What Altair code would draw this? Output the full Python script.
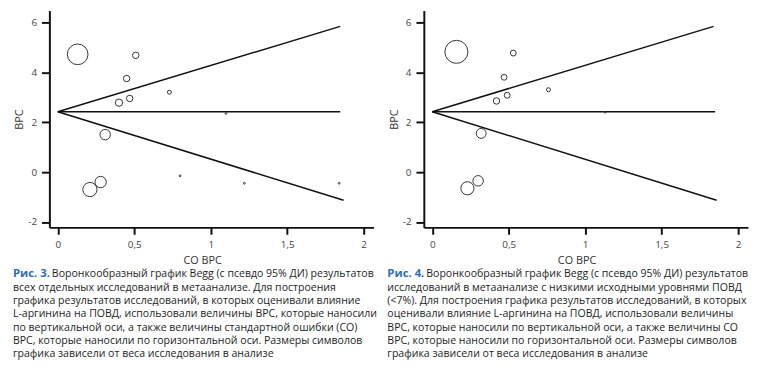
import altair as alt
import pandas as pd

# ---------- Fig. 3: all studies ----------
se_3 = [0.13, 0.51, 0.45, 0.73, 0.47, 0.40, 1.10, 0.31, 0.80, 1.22, 1.84, 0.28, 0.21]
vrs_3 = [4.72, 4.68, 3.75, 3.20, 2.95, 2.78, 2.35, 1.50, -0.15, -0.45, -0.45, -0.40, -0.70]
weight_3 = [39.7, 3.9, 3.9, 1.5, 3.9, 4.9, 0.3, 10.1, 0.3, 0.3, 0.3, 12.0, 18.7]
funnel_x_end_3 = [1.847, 1.847, 1.869]
funnel_y_end_3 = [2.42, 5.84, -1.13]
funnel_center_3 = 2.42

# ---------- Fig. 4: low baseline FMD (<7%) ----------
se_4 = [0.158, 0.53, 0.47, 0.76, 0.49, 0.42, 1.13, 0.32, 0.30, 0.23]
vrs_4 = [4.82, 4.77, 3.80, 3.30, 3.08, 2.85, 2.40, 1.55, -0.35, -0.65]
weight_4 = [49.4, 3.2, 3.2, 1.5, 3.2, 3.9, 0.3, 9.1, 10.1, 16.1]
funnel_x_end_4 = [1.85, 1.84, 1.86]
funnel_y_end_4 = [2.42, 5.84, -1.13]
funnel_center_4 = 2.42

x_ticks = [0, 0.5, 1, 1.5, 2]
y_ticks = [-2, 0, 2, 4, 6]

label_3 = "Рис. 3."
first_rest_3 = "Воронкообразный график Begg (с псевдо 95% ДИ) результатов"
lines_3 = [
    "всех отдельных исследований в метаанализе. Для построения",
    "графика результатов исследований, в которых оценивали влияние",
    "L-аргинина на ПОВД, использовали величины ВРС, которые наносили",
    "по вертикальной оси, а также величины стандартной ошибки (СО)",
    "ВРС, которые наносили по горизонтальной оси. Размеры символов",
    "графика зависели от веса исследования в анализе",
]

label_4 = "Рис. 4."
first_rest_4 = "Воронкообразный график Begg (с псевдо 95% ДИ) результатов"
lines_4 = [
    "исследований в метаанализе с низкими исходными уровнями ПОВД",
    "(<7%). Для построения графика результатов исследований, в которых",
    "оценивали влияние L-аргинина на ПОВД, использовали величины",
    "ВРС, которые наносили по вертикальной оси, а также величины СО",
    "ВРС, которые наносили по горизонтальной оси. Размеры символов",
    "графика зависели от веса исследования в анализе",
]

FONT = "Open Sans"
CAP_SIZE = 10.7
W, H = 329, 220


def panel(se, vrs, weight, fx_end, fy_end, center, label, first_rest, lines):
    pts = pd.DataFrame({"se": se, "vrs": vrs, "w": weight})
    seg = pd.DataFrame({
        "x0": [0.0] * len(fx_end), "x1": fx_end,
        "y0": [center] * len(fy_end), "y1": fy_end,
    })
    xs = alt.Scale(domain=[-0.055, 2.065], nice=False, zero=False)
    ys = alt.Scale(domain=[-2.217, 6.473], nice=False, zero=False)
    xaxis = alt.Axis(
        values=x_ticks,
        labelExpr="replace(format(datum.value, '~g'), '.', ',')",
        title="СО ВРС", titleX=155, tickSize=7, labelPadding=5, titlePadding=6,
    )
    yaxis = alt.Axis(
        values=y_ticks,
        labelExpr="replace(format(datum.value, '~g'), '\u2212', '-')",
        title="ВРС", tickSize=8, labelPadding=5, titlePadding=3,
    )
    rules = alt.Chart(seg).mark_rule(color="#111111", strokeWidth=1.5).encode(
        x=alt.X("x0:Q", scale=xs, axis=xaxis),
        y=alt.Y("y0:Q", scale=ys, axis=yaxis),
        x2="x1:Q",
        y2="y1:Q",
    )
    points = alt.Chart(pts).mark_point(
        shape="circle", filled=False, color="#333333", strokeWidth=1, opacity=1
    ).encode(
        x=alt.X("se:Q", scale=xs, axis=xaxis),
        y=alt.Y("vrs:Q", scale=ys, axis=yaxis),
        size=alt.Size("w:Q", scale=alt.Scale(domain=[0, 50], range=[0, 555]), legend=None),
    )
    plot = alt.layer(rules, points)

    cap_scale = alt.Scale(domain=[0, 6], range=[267.7, 348.7])
    lab_df = pd.DataFrame({"row": [0], "text": [label]})
    first_df = pd.DataFrame({"row": [0], "text": [first_rest]})
    body_df = pd.DataFrame({"row": list(range(1, len(lines) + 1)), "text": lines})
    lab = alt.Chart(lab_df).mark_text(
        align="left", baseline="middle", font=FONT, fontSize=11.5,
        fontWeight="bold", color="#2d6db3",
    ).encode(x=alt.value(-37), y=alt.Y("row:Q", scale=cap_scale, axis=None), text="text:N")
    first = alt.Chart(first_df).mark_text(
        align="left", baseline="middle", font=FONT, fontSize=CAP_SIZE, color="#1e1e1e",
    ).encode(x=alt.value(2.5), y=alt.Y("row:Q", scale=cap_scale, axis=None), text="text:N")
    body = alt.Chart(body_df).mark_text(
        align="left", baseline="middle", font=FONT, fontSize=CAP_SIZE, color="#1e1e1e",
    ).encode(x=alt.value(-37), y=alt.Y("row:Q", scale=cap_scale, axis=None), text="text:N")

    return alt.layer(plot, lab, first, body).resolve_scale(y="independent").properties(
        width=W, height=H
    )


p3 = panel(se_3, vrs_3, weight_3, funnel_x_end_3, funnel_y_end_3, funnel_center_3,
           label_3, first_rest_3, lines_3)
p4 = panel(se_4, vrs_4, weight_4, funnel_x_end_4, funnel_y_end_4, funnel_center_4,
           label_4, first_rest_4, lines_4)

chart = alt.hconcat(p3, p4, spacing=51, bounds="flush").properties(
    padding={"left": 5, "top": 0, "right": 0, "bottom": 0}
).configure_view(stroke=None).configure_axis(
    grid=False,
    domainColor="#111111",
    domainWidth=2,
    tickColor="#111111",
    tickWidth=2,
    labelFont=FONT,
    labelFontSize=10,
    labelColor="#444444",
    titleFont=FONT,
    titleFontSize=11,
    titleFontWeight="normal",
    titleColor="#333333",
)

chart.save("out.html", embed_options={"renderer": "svg", "actions": False})
